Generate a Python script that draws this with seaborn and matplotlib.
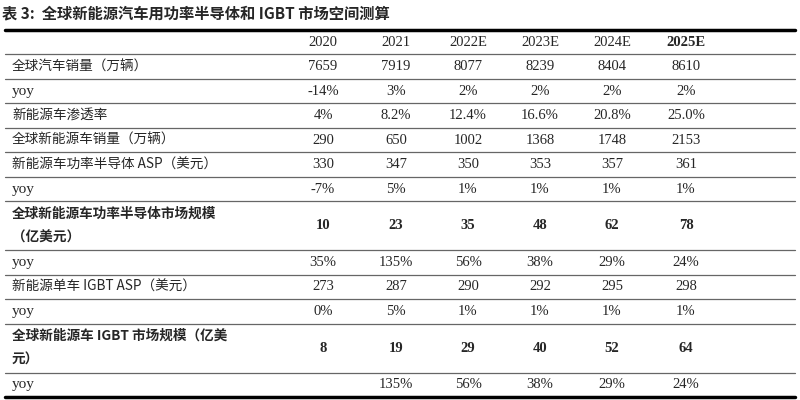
import matplotlib
matplotlib.use("Agg")
import matplotlib.pyplot as plt
import pandas as pd
import seaborn as sns

sns.set_theme(style="white")

title = "表 3:  全球新能源汽车用功率半导体和 IGBT 市场空间测算"
years = ["2020", "2021", "2022E", "2023E", "2024E", "2025E"]
row_labels = [
    "全球汽车销量（万辆）", "yoy", "新能源车渗透率", "全球新能源车销量（万辆）",
    "新能源车功率半导体 ASP（美元）", "yoy", "全球新能源车功率半导体市场规模\n（亿美元）",
    "yoy", "新能源单车 IGBT ASP（美元）", "yoy", "全球新能源车 IGBT 市场规模（亿美\n元）", "yoy",
]
car_sales = ["7659", "7919", "8077", "8239", "8404", "8610"]
car_yoy = ["-14%", "3%", "2%", "2%", "2%", "2%"]
nev_pen = ["4%", "8.2%", "12.4%", "16.6%", "20.8%", "25.0%"]
nev_sales = ["290", "650", "1002", "1368", "1748", "2153"]
power_asp = ["330", "347", "350", "353", "357", "361"]
power_asp_yoy = ["-7%", "5%", "1%", "1%", "1%", "1%"]
power_market = ["10", "23", "35", "48", "62", "78"]
power_market_yoy = ["35%", "135%", "56%", "38%", "29%", "24%"]
igbt_asp = ["273", "287", "290", "292", "295", "298"]
igbt_asp_yoy = ["0%", "5%", "1%", "1%", "1%", "1%"]
igbt_market = ["8", "19", "29", "40", "52", "64"]
igbt_market_yoy = ["", "135%", "56%", "38%", "29%", "24%"]

table = pd.DataFrame(
    [car_sales, car_yoy, nev_pen, nev_sales, power_asp, power_asp_yoy,
     power_market, power_market_yoy, igbt_asp, igbt_asp_yoy, igbt_market, igbt_market_yoy],
    index=row_labels, columns=years)
bold_rows = {6, 10}
row_units = [1, 1, 1, 1, 1, 1, 2, 1, 1, 1, 2, 1]

fig = plt.figure(figsize=(8, 4), dpi=100)
ax = fig.add_axes([0, 0, 1, 1])
ax.set_xlim(0, 800)
ax.set_ylim(400, 0)
ax.axis("off")

cjk = "Noto Sans CJK SC"
serif = "Liberation Serif"
col_x = [323, 396, 468, 540, 612, 686]

ax.text(2, 13, title, fontfamily=cjk, fontsize=11, fontweight="bold", va="center")
top, bottom = 30, 397
unit = (bottom - top) / (1 + sum(row_units))
ax.plot([5, 795], [top, top], color="black", lw=2.5)
ax.plot([5, 795], [bottom, bottom], color="black", lw=2.5)

y = top
for j, yr in enumerate(years):
    ax.text(col_x[j], y + unit / 2, yr, fontfamily=serif, fontsize=10.5, ha="center", va="center",
            fontweight="bold" if yr == "2025E" else "normal")
y += unit
for i, (label, row) in enumerate(table.iterrows()):
    ax.plot([5, 795], [y, y], color="#666666", lw=0.9)
    h = unit * row_units[i]
    w = "bold" if i in bold_rows else "normal"
    if label == "yoy":
        ax.text(12, y + h / 2, label, fontfamily=serif, fontsize=11, va="center")
    else:
        ax.text(12, y + h / 2, label, fontfamily=cjk, fontsize=9.8, va="center", fontweight=w,
                linespacing=1.9)
    for j, val in enumerate(row):
        ax.text(col_x[j], y + h / 2, val, fontfamily=serif, fontsize=10.5, ha="center", va="center",
                fontweight=w)
    y += h

fig.savefig("out.png", dpi=100)
